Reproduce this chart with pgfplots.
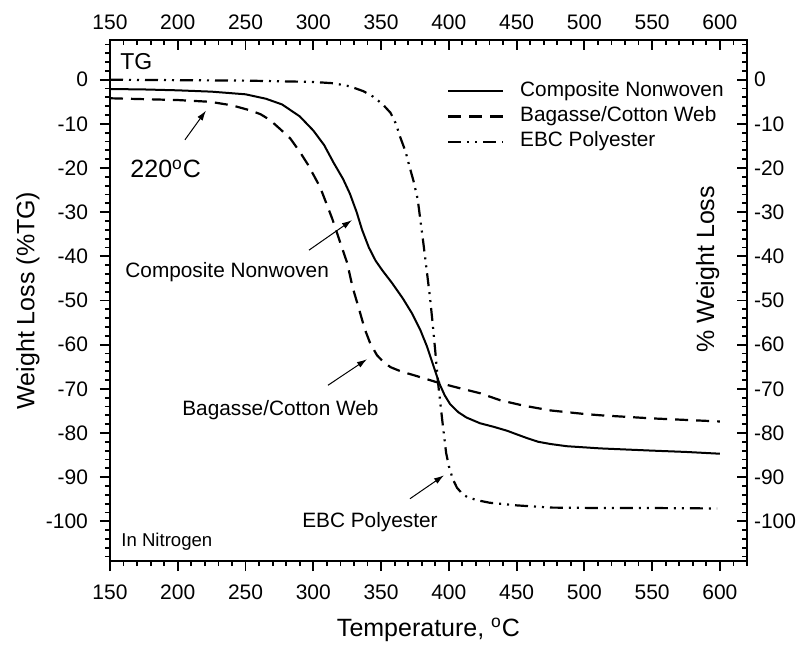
\documentclass[border=0pt]{standalone}
\usepackage{fontspec}
\setmainfont{Liberation Sans}
\usepackage{pgfplots}
\pgfplotsset{compat=1.18}
\usetikzlibrary{arrows.meta}

\pgfplotsset{
  tgframe/.style={
    width=318.5pt, height=260.5pt, scale only axis,
    xmin=150, xmax=620, ymin=-109, ymax=9,
    xtick={150,200,...,600}, ytick={-100,-90,...,0},
    minor x tick num=4, minor y tick num=4,
    major tick length=5pt, minor tick length=2.5pt,
    xtick style={black, line width=0.9pt},
    ytick style={black, line width=0.9pt},
    axis line style={line width=1pt},
    /pgf/number format/assume math mode=true,
    tick label style={font=\fontsize{10.5}{12}\selectfont},
  },
}
\tikzset{
  anno/.style={font=\fontsize{10.4}{12}\selectfont, inner sep=0pt},
  arr/.style={line width=0.5pt, -{Latex[length=5pt,width=3.2pt]}},
  tk/.style={line width=0.9pt, black},
}

\begin{document}
\begin{tikzpicture}

% top and right frame: inward ticks, labels outside
\begin{axis}[tgframe, tick align=inside,
  xtick pos=top, ytick pos=right,
  xticklabel pos=top, yticklabel pos=right,
  xticklabel style={yshift=1.5pt}]
\end{axis}

% main frame with the three curves
\begin{axis}[tgframe, tick align=outside, clip=false,
  xtick pos=bottom, ytick pos=left,
  xticklabel style={yshift=-3.5pt},
  yticklabel style={xshift=-2.5pt},
  xlabel={Temperature, \textsuperscript{o}C},
  ylabel={Weight Loss (\%TG)},
  every axis x label/.style={at={([yshift=-34.5pt]axis description cs:0.5,0)}, anchor=center,
    font=\fontsize{12.5}{15}\selectfont},
  every axis y label/.style={at={([xshift=-41pt]axis description cs:0,0.5)}, rotate=90, anchor=center,
    font=\fontsize{12.5}{15}\selectfont},
  legend style={at={(axis description cs:0.529,0.9211)}, anchor=north west,
    draw=none, fill=none, inner sep=0pt, outer sep=0pt, row sep=2.7pt,
    font=\fontsize{10.4}{12}\selectfont,
    nodes={inner sep=0pt, text height=7.5pt, text depth=2.5pt},
    /tikz/every odd column/.append style={column sep=8pt}},
  legend cell align=left,
  legend image code/.code={\draw[#1] (0pt,0pt) -- (27.5pt,0pt);},
]

\addplot[black, line width=1pt] coordinates {
(150,-2.1) (175,-2.2) (200,-2.4) (225,-2.7) (250,-3.3) (265,-4.3) (277,-5.6)
(290,-8.3) (300,-11.5) (308,-14.8) (315,-18.8) (322,-22.5) (327,-25.8)
(332,-30.0) (336,-34.0) (341,-38.0) (346,-41.0) (351,-43.2) (358,-46.0)
(366,-49.5) (373,-53.0) (379,-56.7) (384,-60.5) (388,-64.2) (393,-68.8)
(397,-71.5) (401,-73.5) (407,-75.3) (413,-76.5) (423,-77.8) (433,-78.6)
(443,-79.5) (450,-80.3) (458,-81.2) (466,-82.0) (475,-82.5) (487,-83.0)
(512,-83.5) (550,-84.0) (575,-84.3) (600,-84.7)
};
\addlegendentry{Composite Nonwoven}

\addplot[black, line width=1.1pt, dash pattern=on 6.5pt off 4pt] coordinates {
(150,-4.2) (175,-4.4) (200,-4.6) (224,-5.0) (240,-5.8) (253,-6.9) (261,-7.8)
(268,-9.1) (276,-11.3) (283,-13.3) (290,-16.3) (296,-19.2) (305,-24.3)
(314,-31.5) (320,-37.0) (325,-41.5) (329,-47.0) (334,-52.2) (338,-56.5)
(342,-59.7) (347,-62.4) (352,-64.0) (357,-65.1) (365,-66.1) (374,-66.9)
(391,-68.5) (406,-69.7) (423,-71.0) (438,-72.6) (455,-73.8) (475,-74.9)
(500,-75.7) (512,-76.0) (550,-76.7) (600,-77.4)
};
\addlegendentry{Bagasse/Cotton Web}

\addplot[black, line width=1.1pt, dash pattern=on 6.5pt off 3pt on 1pt off 3pt on 1pt off 3pt] coordinates {
(150,0) (200,-0.1) (250,-0.2) (300,-0.5) (315,-0.8) (327,-1.5) (337,-2.6)
(344,-3.8) (351,-5.5) (357,-7.5) (361,-10.0) (364,-12.9) (368,-16.2)
(371,-19.7) (374,-23.0) (377,-27.0) (381,-36.5) (384,-44.0) (386,-49.0)
(388,-55.0) (390,-61.5) (392,-68.5) (394,-74.0) (396,-79.4) (398,-84.5)
(400,-87.5) (403,-90.5) (406,-92.4) (410,-93.8) (414,-94.6) (422,-95.3)
(430,-95.8) (450,-96.4) (475,-96.9) (512,-97.0) (550,-97.0) (598,-97.1)
};
\addlegendentry{EBC Polyester}

% frame ticks: outward on bottom/left, inward on top/right
\pgfplotsextra{
  \foreach \t in {150,160,...,620} {
    \draw[tk] (axis cs:\t,-109) -- ++(0pt,-2.5pt);
    \draw[tk] (axis cs:\t,9) -- ++(0pt,-2.5pt);
  }
  \foreach \t in {150,200,...,600} {
    \draw[tk] (axis cs:\t,-109) -- ++(0pt,-5pt);
    \draw[tk] (axis cs:\t,9) -- ++(0pt,-5pt);
  }
  \foreach \v in {-108,-106,...,8} {
    \draw[tk] (axis cs:150,\v) -- ++(-2.5pt,0pt);
    \draw[tk] (axis cs:620,\v) -- ++(-2.5pt,0pt);
  }
  \foreach \v in {-100,-90,...,0} {
    \draw[tk] (axis cs:150,\v) -- ++(-5pt,0pt);
    \draw[tk] (axis cs:620,\v) -- ++(-5pt,0pt);
  }
}

% annotations
\node[font=\fontsize{11.5}{13}\selectfont, inner sep=0pt, anchor=base west] at (axis cs:157.4,2.3) {TG};
\node[font=\fontsize{12.5}{15}\selectfont, inner sep=0pt, anchor=base west] at (axis cs:164.8,-22.2) {220\textsuperscript{o}C};
\draw[arr] (axis cs:205.3,-13.6) -- (axis cs:220.8,-7.0);

\node[anno, anchor=base west] at (axis cs:161.1,-44.9) {Composite Nonwoven};
\draw[arr] (axis cs:296.8,-38.6) -- (axis cs:328.5,-31.8);

\node[anno, anchor=base west] at (axis cs:203.1,-76.0) {Bagasse/Cotton Web};
\draw[arr] (axis cs:310.8,-69.2) -- (axis cs:339.6,-63.3);

\node[anno, anchor=base east] at (axis cs:392,-101.4) {EBC Polyester};
\draw[arr] (axis cs:371.3,-94.9) -- (axis cs:396.4,-89.6);

\node[font=\fontsize{9.3}{11}\selectfont, inner sep=0pt, anchor=base west] at (axis cs:158.1,-105.7) {In Nitrogen};
\node[font=\fontsize{12.5}{15}\selectfont, rotate=90] at (axis cs:591,-42.9) {\% Weight Loss};

\end{axis}

% page margins around the frame
\path (-55pt,-46.5pt) rectangle (348.5pt,280.5pt);
\end{tikzpicture}
\end{document}
